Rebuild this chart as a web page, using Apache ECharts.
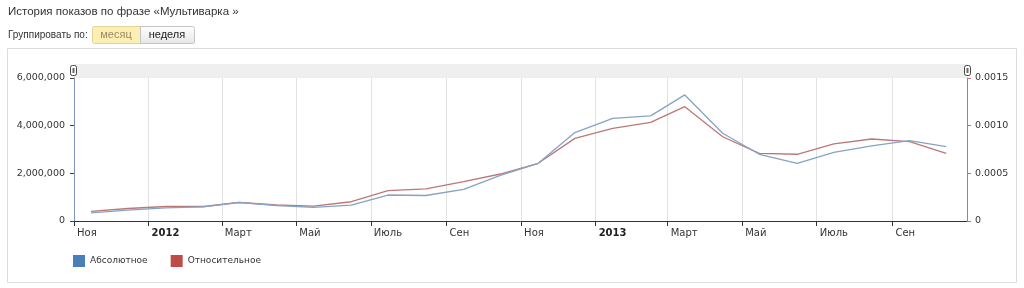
<!DOCTYPE html>
<html>
<head>
<meta charset="utf-8">
<script src="https://cdn.jsdelivr.net/npm/echarts@6/dist/echarts.min.js"></script>
<style>
html,body{margin:0;padding:0;background:#fff;}
#chart{width:1024px;height:288px;}
</style>
</head>
<body>
<div id="chart"></div>
<script>
// ---- data ----
const months = ['2011-11','2011-12','2012-01','2012-02','2012-03','2012-04','2012-05','2012-06','2012-07','2012-08','2012-09','2012-10',
  '2012-11','2012-12','2013-01','2013-02','2013-03','2013-04','2013-05','2013-06','2013-07','2013-08','2013-09','2013-10'];
const absolute = [340000,460000,550000,590000,780000,650000,570000,670000,1090000,1070000,1330000,1910000,
  2420000,3710000,4310000,4410000,5290000,3680000,2800000,2420000,2880000,3150000,3370000,3120000];
const relative = [0.000100,0.000131,0.000152,0.000152,0.000194,0.000168,0.000157,0.000202,0.000318,0.000336,0.000412,0.000493,
  0.000605,0.000867,0.000972,0.001035,0.001199,0.000884,0.000710,0.000700,0.000808,0.000860,0.000832,0.000710];
const tickMonths = ['2011-11','2012-01','2012-03','2012-05','2012-07','2012-09','2012-11','2013-01','2013-03','2013-05','2013-07','2013-09'];
const tickLabels = ['Ноя','2012','Март','Май','Июль','Сен','Ноя','2013','Март','Май','Июль','Сен'];
const axisStart = '2011-11';
const axisEnd = '2013-11';
const seriesNames = ['Абсолютное','Относительное'];
const titleText = 'История показов по фразе «Мультиварка »';
const groupLabel = 'Группировать по:';
const buttons = ['месяц','неделя'];

function ts(s, d){ const p = s.split('-').map(Number); return Date.UTC(p[0], p[1]-1, d); }
const tickValues = tickMonths.map(m => ts(m, 1));
const absData = months.map((m,i) => [ts(m,15), absolute[i]]);
const relData = months.map((m,i) => [ts(m,15), relative[i]]);

const chart = echarts.init(document.getElementById('chart'), null, {renderer:'canvas'});
const FONT = 'DejaVu Sans';
const ARIAL = 'Liberation Sans';

chart.setOption({
  animation:false,
  backgroundColor:'#fff',
  title:{text:titleText,left:8,top:6,padding:0,textStyle:{fontFamily:ARIAL,fontSize:11.5,fontWeight:'normal',color:'#333'}},
  graphic:[
    {type:'rect',shape:{x:7.5,y:48.5,width:1009,height:234},style:{fill:'none',stroke:'#dcdcdc',lineWidth:1},silent:true},
    {type:'text',x:8,y:35,style:{text:groupLabel,font:'10px "Liberation Sans"',fill:'#333',textVerticalAlign:'middle'}},
    {type:'rect',shape:{x:92.5,y:26.5,width:48,height:17,r:[2,0,0,2]},style:{fill:'#fcefb4',stroke:'#e3d494'}},
    {type:'text',x:116,y:35,style:{text:buttons[0],font:'11px "Liberation Sans"',fill:'#9a8a60',textAlign:'center',textVerticalAlign:'middle'}},
    {type:'rect',shape:{x:140.5,y:26.5,width:54,height:17,r:[0,2,2,0]},style:{fill:new echarts.graphic.LinearGradient(0,0,0,1,[{offset:0,color:'#ffffff'},{offset:1,color:'#e6e6e6'}]),stroke:'#c4c4c4'}},
    {type:'text',x:167,y:35,style:{text:buttons[1],font:'11px "Liberation Sans"',fill:'#222',textAlign:'center',textVerticalAlign:'middle'}},
    {type:'rect',shape:{x:74,y:64,width:893,height:14},style:{fill:'#efefef'},silent:true},
    {type:'rect',shape:{x:70.5,y:65.5,width:6,height:10,r:2},style:{fill:'#fff',stroke:'#444',lineWidth:1}},
    {type:'rect',shape:{x:72.5,y:68,width:2,height:5},style:{fill:'#666'}},
    {type:'rect',shape:{x:964.5,y:65.5,width:6,height:10,r:2},style:{fill:'#fff',stroke:'#444',lineWidth:1}},
    {type:'rect',shape:{x:966.5,y:68,width:2,height:5},style:{fill:'#666'}}
  ],
  legend:{
    left:73, top:255, padding:0, icon:'rect', itemWidth:12, itemHeight:12, itemGap:23,
    textStyle:{fontFamily:FONT,fontSize:9,color:'#333'},
    data:seriesNames
  },
  grid:{left:74,right:57,top:78,bottom:67},
  xAxis:{
    type:'value',
    min:ts(axisStart,1), max:ts(axisEnd,1),
    axisLine:{lineStyle:{color:'#333',width:1}},
    axisTick:{show:true,length:5,lineStyle:{color:'#333'},customValues:tickValues},
    splitLine:{show:true,lineStyle:{color:'#e2e2e2',width:1}},
    axisLabel:{
      customValues:tickValues,
      align:'left', margin:7, padding:[0,0,0,3],
      fontFamily:FONT, fontSize:10, color:'#333',
      formatter:function(v){
        const i = tickValues.indexOf(v);
        const t = i>=0 ? tickLabels[i] : '';
        return /^\d{4}$/.test(t) ? '{b|'+t+'}' : t;
      },
      rich:{b:{fontWeight:'bold',fontFamily:FONT,fontSize:10,color:'#222'}}
    }
  },
  yAxis:[
    {
      type:'value', min:0, max:6000000, interval:2000000, position:'left',
      axisLine:{show:true,lineStyle:{color:'#8095b5',width:1}},
      axisTick:{show:true,length:4,lineStyle:{color:'#444'}},
      splitLine:{show:false},
      axisLabel:{margin:9,fontFamily:FONT,fontSize:9.5,color:'#333',
        formatter:function(v){return String(v).replace(/\B(?=(\d{3})+(?!\d))/g, ',');}}
    },
    {
      type:'value', min:0, max:0.0015, interval:0.0005, position:'right',
      axisLine:{show:true,lineStyle:{color:'#c47272',width:1}},
      axisTick:{show:true,length:4,lineStyle:{color:'#c47272'}},
      splitLine:{show:false},
      axisLabel:{margin:8,fontFamily:FONT,fontSize:9.5,color:'#333',
        formatter:function(v){return v===0?'0':v.toFixed(4);}}
    }
  ],
  series:[
    {name:seriesNames[0],type:'line',yAxisIndex:0,data:absData,showSymbol:false,symbol:'none',
      itemStyle:{color:'#4a7ebb'},lineStyle:{color:'#86a3c6',width:1.3},z:3},
    {name:seriesNames[1],type:'line',yAxisIndex:1,data:relData,showSymbol:false,symbol:'none',
      itemStyle:{color:'#be4b48'},lineStyle:{color:'#bc7876',width:1.3},z:2}
  ]
});
</script>
</body>
</html>
